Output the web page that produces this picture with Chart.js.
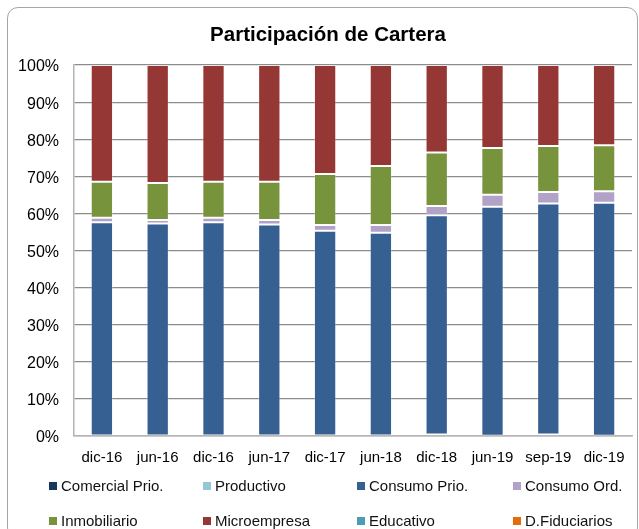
<!DOCTYPE html>
<html>
<head>
<meta charset="utf-8">
<script src="https://cdn.jsdelivr.net/npm/chart.js@4.4.1/dist/chart.umd.min.js"></script>
<style>
  body { margin: 0; width: 639px; height: 529px; overflow: hidden; background: #fff; position: relative; }
  #frame { position: absolute; left: 7px; top: 7px; width: 629px; height: 530px; border: 1px solid #a6a6a6; border-radius: 11px; }
  #wrap { position: absolute; left: 0; top: 0; width: 639px; height: 529px; }
  #title { position: absolute; left: 128px; width: 400px; top: 22px; text-align: center; font: bold 20.5px "Liberation Sans", Arial, sans-serif; color: #000; line-height: 24px; }
  .leg { position: absolute; font: 15px "Liberation Sans", Arial, sans-serif; color: #111; white-space: nowrap; line-height: 18px; }
  .leg span { display: inline-block; width: 8px; height: 8px; margin-right: 4px; vertical-align: 1px; }
</style>
</head>
<body>
<div id="frame"></div>
<div id="wrap"><canvas id="chart" width="639" height="529"></canvas></div>
<div id="title">Participación de Cartera</div>
<div id="legend"></div>
<script>
// periods on the x axis
const periodos = ['dic-16', 'jun-16', 'dic-16', 'jun-17', 'dic-17', 'jun-18', 'dic-18', 'jun-19', 'sep-19', 'dic-19']

// share of portfolio, %
const comercialPrio = [0, 0, 0, 0, 0, 0, 0.4, 0.1, 0.4, 0.1]
const productivo = [0, 0, 0, 0, 0, 0, 0, 0, 0, 0]
const consumoPrio = [57.6, 57.3, 57.6, 57.0, 55.3, 54.8, 59.1, 61.7, 62.3, 62.8]
const consumoOrd = [1.2, 0.9, 1.2, 1.2, 1.6, 2.1, 2.5, 3.2, 3.1, 3.1]
const inmobiliario = [9.7, 10.0, 9.7, 10.3, 13.7, 15.9, 14.4, 12.6, 12.4, 12.4]
const microempresa = [31.5, 31.8, 31.5, 31.5, 29.4, 27.2, 23.6, 22.4, 21.8, 21.6]
const educativo = [0, 0, 0, 0, 0, 0, 0, 0, 0, 0]
const fiduciarios = [0, 0, 0, 0, 0, 0, 0, 0, 0, 0]

const yTicks = [0, 10, 20, 30, 40, 50, 60, 70, 80, 90, 100]

const series = [
  { label: 'Comercial Prio.', data: comercialPrio, color: '#17375e' },
  { label: 'Productivo', data: productivo, color: '#93c6d8' },
  { label: 'Consumo Prio.', data: consumoPrio, color: '#376092' },
  { label: 'Consumo Ord.', data: consumoOrd, color: '#b3a2c7' },
  { label: 'Inmobiliario', data: inmobiliario, color: '#77933c' },
  { label: 'Microempresa', data: microempresa, color: '#953735' },
  { label: 'Educativo', data: educativo, color: '#4a9db5' },
  { label: 'D.Fiduciarios', data: fiduciarios, color: '#e46c0a' }
]

const font = '"Liberation Sans", Arial, sans-serif'

const chart = new Chart(document.getElementById('chart'), {
  type: 'bar',
  data: {
    labels: periodos,
    datasets: series.map(s => ({
      label: s.label,
      data: s.data,
      backgroundColor: s.color,
      borderColor: 'rgba(255,255,255,0.25)',
      borderWidth: 1,
      borderSkipped: false,
      categoryPercentage: 1,
      barPercentage: 0.4
    }))
  },
  options: {
    responsive: false,
    animation: false,
    layout: { padding: { top: 65, right: 7, bottom: 0, left: 0 } },
    plugins: {
      legend: { display: false },
      tooltip: { enabled: false },
      title: { display: false }
    },
    scales: {
      x: {
        stacked: true,
        grid: { display: false, drawTicks: false },
        border: { color: '#b4b4b4', width: 1.5 },
        ticks: { color: '#000', font: { family: font, size: 15 }, padding: 13, maxRotation: 0 },
        afterFit: function (scale) { scale.height = 93 }
      },
      y: {
        stacked: true,
        min: 0,
        max: 100,
        afterBuildTicks: function (scale) { scale.ticks = yTicks.map(v => ({ value: v })) },
        grid: { color: '#8c8c8c', lineWidth: 1.2, drawTicks: false },
        border: { color: '#b4b4b4', width: 1.5 },
        ticks: { color: '#000', font: { family: font, size: 16 }, padding: 15, labelOffset: 2, callback: v => v + '%' },
        afterFit: function (scale) { scale.width = 74 }
      }
    }
  }
})

// legend in four columns, as in the original
const legendBox = document.getElementById('legend')
const colX = [49, 203, 357, 513]
const rowY = [477, 512]
chart.data.datasets.forEach(function (ds, i) {
  const item = document.createElement('div')
  item.className = 'leg'
  item.style.left = colX[i % 4] + 'px'
  item.style.top = rowY[Math.floor(i / 4)] + 'px'
  item.innerHTML = '<span style="background:' + ds.backgroundColor + '"></span>' + ds.label
  legendBox.appendChild(item)
})
</script>
</body>
</html>
